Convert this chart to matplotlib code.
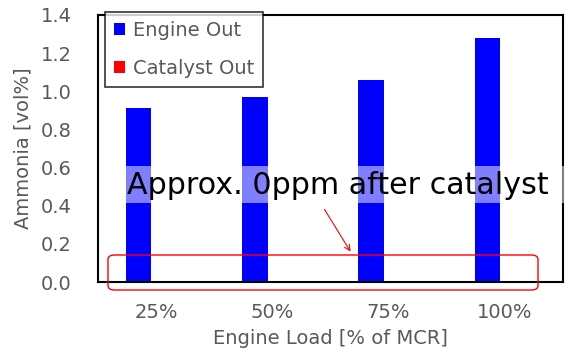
import matplotlib
matplotlib.use("Agg")
import matplotlib.pyplot as plt
import numpy as np
from matplotlib.patches import FancyBboxPatch, Rectangle

plt.rcParams['font.family'] = ['DejaVu Sans']

categories = ["25%", "50%", "75%", "100%"]
engine_out = [0.91, 0.97, 1.06, 1.28]
catalyst_out = [0.003, 0.003, 0.003, 0.003]
yticks = [0.0, 0.2, 0.4, 0.6, 0.8, 1.0, 1.2, 1.4]

gray = "#595959"
fig = plt.figure(figsize=(5.75, 3.57), dpi=100)
ax = fig.add_axes([98/575, 1-282/357, (563-98)/575, (282-15)/357])

x = np.arange(len(categories))
w = 0.22
ax.bar(x - 0.15, engine_out, w, color="#0000ff", label="Engine Out")
ax.bar(x + 0.15, catalyst_out, w, color="#ff0000", label="Catalyst Out")

ax.set_xlim(-0.5, len(categories) - 0.5)
ax.set_ylim(0, 1.4)
ax.set_yticks(yticks)
ax.set_yticklabels([f"{v:.1f}" for v in yticks])
ax.set_xticks(x)
ax.set_xticklabels(categories)
ax.tick_params(axis='both', length=0, labelsize=14, colors=gray)
ax.tick_params(axis='y', pad=19)
ax.tick_params(axis='x', pad=15)
for s in ax.spines.values():
    s.set_linewidth(1.5)
    s.set_color("black")

ax.set_ylabel("Ammonia [vol%]", color=gray, fontsize=14, labelpad=6)
ax.set_xlabel("Engine Load [% of MCR]", color=gray, fontsize=14, labelpad=5)

leg = ax.legend(loc="upper left", bbox_to_anchor=(0.015, 1.012), frameon=True,
                fancybox=False, fontsize=14, handlelength=0.6, handleheight=0.6,
                handletextpad=0.4, borderpad=0.45, labelspacing=1.0, borderaxespad=0)
leg.get_frame().set_edgecolor("black")
leg.get_frame().set_linewidth(1.2)
for t in leg.get_texts():
    t.set_color(gray)

# translucent band behind annotation
band = Rectangle((124/575, 1-203/357), (565-124)/575, (203-166)/357,
                 transform=fig.transFigure, facecolor="white", alpha=0.5,
                 edgecolor="none")
fig.add_artist(band)
fig.text(127/575, 1-185/357, "Approx. 0ppm after catalyst", fontsize=21.7, color="black",
         va="center", ha="left")

# red rounded box
rect = FancyBboxPatch((108/575, 1-290/357), (538-108)/575, (290-255)/357,
                      boxstyle="round,pad=0,rounding_size=0.012",
                      transform=fig.transFigure, facecolor="none",
                      edgecolor="red", linewidth=1.0)
fig.add_artist(rect)

ax.annotate("", xy=(352/575, 1-254/357), xytext=(323/575, 1-207/357),
            xycoords="figure fraction", textcoords="figure fraction",
            arrowprops=dict(arrowstyle="->", color="red", lw=0.8))

fig.savefig("out.png", dpi=100)
